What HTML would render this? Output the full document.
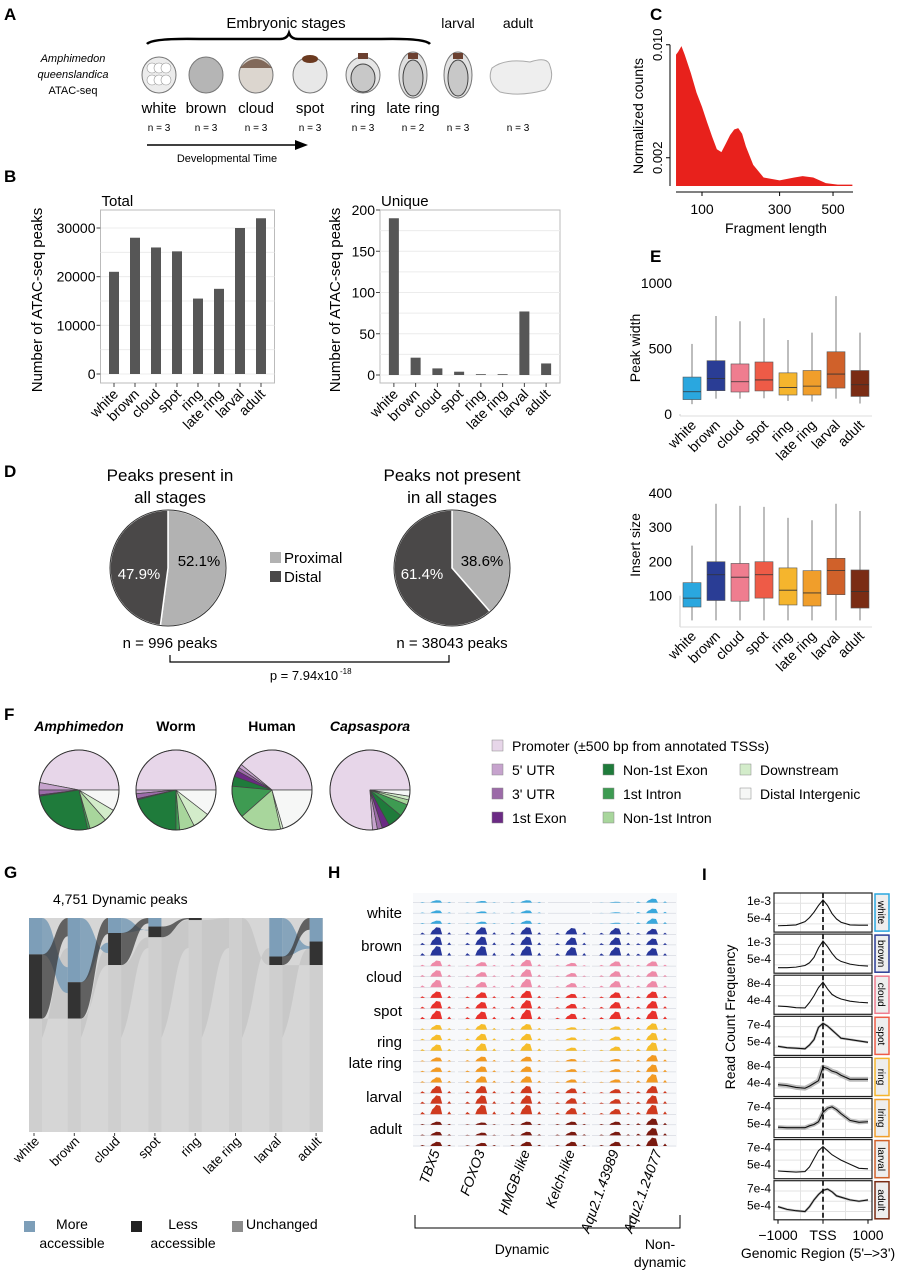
<!DOCTYPE html>
<html><head><meta charset="utf-8"><style>
body{margin:0;background:#fff;width:912px;height:1280px;overflow:hidden}
svg{display:block;font-family:"Liberation Sans",Arial,sans-serif}
</style></head><body>
<svg id="fig" width="912" height="1280" viewBox="0 0 912 1280" xmlns="http://www.w3.org/2000/svg">
<g font-weight="bold" font-size="17">
<text x="4" y="20">A</text><text x="650" y="20">C</text><text x="4" y="182">B</text>
<text x="4" y="477">D</text><text x="650" y="262">E</text><text x="4" y="720">F</text>
<text x="4" y="878">G</text><text x="328" y="878">H</text><text x="702" y="880">I</text>
</g>
<g id="panelA">
<text x="286" y="28" font-size="15" text-anchor="middle">Embryonic stages</text>
<path d="M147,44 Q152,38 200,39 L280,39 Q287,39 289,33 Q291,39 298,39 L380,39 Q425,38 430,44" fill="none" stroke="#000" stroke-width="2.5"/>
<text x="458" y="28" font-size="14" text-anchor="middle">larval</text>
<text x="518" y="28" font-size="14" text-anchor="middle">adult</text>
<text x="73" y="62" font-size="11" font-style="italic" text-anchor="middle">Amphimedon</text>
<text x="73" y="78" font-size="11" font-style="italic" text-anchor="middle">queenslandica</text>
<text x="73" y="94" font-size="11" text-anchor="middle">ATAC-seq</text>
<line x1="147" y1="145" x2="298" y2="145" stroke="#000" stroke-width="1.5"/>
<polygon points="308,145 295,140 295,150" fill="#000"/>
<text x="227" y="162" font-size="11" text-anchor="middle">Developmental Time</text>
</g>
<g id="panelB"></g>
<g id="panelC"></g>
<g id="panelD"></g>
<g id="panelE"></g>
<g id="panelF"></g>
<g id="panelG"></g>
<g id="panelH"></g>
<g id="panelI"></g>
</svg>
<script>
// ---------- data ----------
const stages = ["white","brown","cloud","spot","ring","late ring","larval","adult"];
const stageN = [3,3,3,3,3,2,3,3];
const stageColors = ["#2aa7df","#2a3d95","#ef7d8f","#ee5b47","#f5b52d","#f09e2b","#d0612a","#7a2c14"];
const trackColors = ["#3aa8dc","#27369a","#ee8aa8","#e8312c","#f6bd2a","#f29a23","#cf3a1f","#7a1a10"];
const totalPeaks = [21000,28000,26000,25200,15500,17500,30000,32000];
const totalTicks = [0,10000,20000,30000];
const uniquePeaks = [190,21,8,4,1,1,77,14];
const uniqueTicks = [0,50,100,150,200];
const fragLen = [57,60,65,70,80,90,100,110,120,130,140,150,160,170,180,190,200,220,250,300,350,380,420,470,520,585];
const fragCounts = [0.0093,0.0095,0.0099,0.0093,0.0080,0.0066,0.0056,0.0045,0.0035,0.0026,0.0024,0.0030,0.0036,0.0040,0.0041,0.0037,0.0028,0.0015,0.0006,0.0004,0.0006,0.0007,0.0006,0.0002,0.0001,0.0001];
const fragTicks = [100,300,500];
const pieAllValues = [52.1,47.9];
const pieNotAllValues = [38.6,61.4];
const widthLo=[75,117,117,120,100,95,117,80], widthQ1=[110,178,168,176,145,145,198,134], widthMed=[170,270,246,260,202,213,305,223], widthQ3=[282,407,382,397,314,332,475,332], widthHi=[535,748,708,731,565,621,900,621];
const widthTicks=[0,500,1000];
const insLo=[28,28,28,28,28,28,28,28], insQ1=[67,86,84,93,73,70,103,64], insMed=[93,161,154,161,116,108,173,112], insQ3=[138,199,194,199,181,173,209,175], insHi=[246,368,362,359,327,320,368,347];
const insTicks=[100,200,300,400];
const featNames=["Promoter (±500 bp from annotated TSSs)","5' UTR","3' UTR","1st Exon","Non-1st Exon","1st Intron","Non-1st Intron","Downstream","Distal Intergenic"];
const featColors=["#e7d6e9","#c6a3cd","#9c6ba8","#6b2a84","#1f7b3b","#3e9b52","#a8d69c","#d3ecca","#f6f7f6"];
const species=["Amphimedon","Worm","Human","Capsaspora"];
const annAmph=[47,3,2,0.5,26,1,7,5,8.5];
const annWorm=[50,1.5,2,0.5,21,1.5,6,7,10.5];
const annHuman=[39,1.5,1.5,2.5,4,13,17,1,20.5];
const annCaps=[76,2,2,3,6,5,2,1.5,2.5];
const moreAcc=[0.17,0.30,0.07,0.04,0.0,0.0,0.18,0.11];
const lessAcc=[0.30,0.17,0.15,0.05,0.01,0.0,0.04,0.11];
const genes=["TBX5","FOXO3","HMGB-like","Kelch-like","Aqu2.1.43989","Aqu2.1.24077"];
const geneSignal=[
 [0.3,0.2,0.3,0.0,0.1,0.5],[0.9,0.9,0.9,0.8,0.8,0.7],[0.7,0.5,0.8,0.4,0.6,0.6],[0.8,0.7,0.9,0.5,0.7,0.8],
 [0.6,0.7,0.7,0.3,0.4,0.8],[0.5,0.6,0.6,0.3,0.3,0.8],[0.9,0.9,0.9,0.6,0.5,0.9],[0.4,0.3,0.4,0.4,0.4,0.8]];
const profileX=[-1000,-800,-600,-400,-300,-200,-100,0,100,200,300,400,600,800,1000];
const profWhite=[0.05,0.06,0.08,0.2,0.35,0.55,0.8,1.0,0.8,0.5,0.3,0.18,0.08,0.07,0.07];
const profBrown=[0.02,0.02,0.04,0.1,0.2,0.4,0.75,1.0,0.8,0.55,0.35,0.25,0.15,0.1,0.08];
const profCloud=[0.12,0.1,0.06,0.05,0.25,0.5,0.8,1.0,0.75,0.55,0.45,0.38,0.3,0.26,0.24];
const profSpot=[0.15,0.1,0.08,0.06,0.2,0.4,0.85,1.0,0.9,0.75,0.6,0.45,0.4,0.35,0.3];
const profRing=[0.25,0.22,0.15,0.12,0.2,0.3,0.4,0.9,0.85,0.75,0.7,0.6,0.45,0.45,0.45];
const profLring=[0.2,0.18,0.18,0.18,0.25,0.3,0.4,0.75,0.9,0.95,0.85,0.7,0.45,0.38,0.4];
const profLarval=[0.1,0.08,0.06,0.08,0.25,0.55,0.85,1.0,0.85,0.7,0.6,0.5,0.35,0.2,0.18];
const profAdult=[0.3,0.2,0.15,0.12,0.3,0.55,0.75,0.9,0.95,0.85,0.7,0.65,0.55,0.5,0.55];
const profiles=[profWhite,profBrown,profCloud,profSpot,profRing,profLring,profLarval,profAdult];
const profBand=[0,0,0,0.04,0.08,0.07,0,0.04];
const profTickTop=["1e-3","1e-3","8e-4","7e-4","8e-4","7e-4","7e-4","7e-4"];
const profTickBot=["5e-4","5e-4","4e-4","5e-4","4e-4","5e-4","5e-4","5e-4"];
const stripLabels=["white","brown","cloud","spot","ring","lring","larval","adult"];

const NS="http://www.w3.org/2000/svg";
function mk(parent,tag,attrs){const e=document.createElementNS(NS,tag);for(const k in attrs)e.setAttribute(k,attrs[k]);parent.appendChild(e);return e;}
function txt(parent,x,y,s,size,extra){const t=mk(parent,"text",Object.assign({x:x,y:y,"font-size":size},extra||{}));t.textContent=s;return t;}

// ---------- Panel A embryos ----------
(function(){
 const g=document.getElementById("panelA");
 const cx=[159,206,256,310,363,413,458];
 const fills=["#ececec","#b5b5b5","#dcd6cf","#e8e8e8","#e6e6e6","#e0e0e0","#e2e2e2"];
 for(let i=0;i<7;i++){
  const c=mk(g,"ellipse",{cx:cx[i],cy:75,rx:i>=5?14:17,ry:i>=5?23:18,fill:fills[i],stroke:"#777","stroke-width":1});
  
  
  if(i==2){mk(g,"path",{d:"M240,68 Q256,50 272,68",fill:"#5a3a28",opacity:0.7});}
  if(i==3){mk(g,"ellipse",{cx:310,cy:59,rx:8,ry:4,fill:"#6b3a20"});}
  if(i>=4){mk(g,"ellipse",{cx:cx[i],cy:78,rx:i>=5?10:12,ry:i>=5?18:14,fill:"#c8c8c8",stroke:"#444"});mk(g,"rect",{x:cx[i]-5,y:53,width:10,height:6,fill:"#6b4030"});}
  if(i==0){for(let k=0;k<6;k++)mk(g,"circle",{cx:cx[i]-7+(k%3)*7,cy:68+Math.floor(k/3)*12,r:5,fill:"#fff",stroke:"#999","stroke-width":0.6});}
  if(i<6){const t=txt(g,cx[i],113,stages[i],15,{"text-anchor":"middle"});}
 }
 const ad=mk(g,"path",{d:"M492,68 Q505,58 530,62 Q548,56 550,66 Q555,80 545,90 Q520,97 500,92 Q486,82 492,68Z",fill:"#eee",stroke:"#aaa"});
 
 const nx=[159,206,256,310,363,413,458,518];
 for(let i=0;i<8;i++){const t=txt(g,nx[i],131,"n = "+stageN[i],10,{"text-anchor":"middle"});}
})();

// ---------- Panel B ----------
function barChart(g,x0,x1,yTop,yBot,y,vals,ticks,title,name,gridTicks){
 const band=(x1-x0)/vals.length;
 const xc=i=>x0+band*(i+0.5);
 mk(g,"rect",{x:x0-3,y:yTop,width:x1-x0+6,height:yBot-yTop,fill:"#fff",stroke:"#bbb"});
 gridTicks.forEach(t=>mk(g,"line",{x1:x0-3,x2:x1+3,y1:y(t),y2:y(t),stroke:"#ececec"}));
 ticks.forEach(t=>{mk(g,"line",{x1:x0-7,x2:x0-3,y1:y(t),y2:y(t),stroke:"#444"});const l=txt(g,x0-8,y(t)+5,String(t),14,{"text-anchor":"end"});});
 vals.forEach((v,i)=>{
  const b=mk(g,"rect",{x:xc(i)-5,y:y(v),width:10,height:y(0)-y(v),fill:"#565656"});
  
  
  mk(g,"line",{x1:xc(i),x2:xc(i),y1:yBot,y2:yBot+4,stroke:"#444"});
  const l=txt(g,xc(i)+5,yBot+12,stages[i],14,{"text-anchor":"end",transform:`rotate(-45 ${xc(i)+5} ${yBot+12})`});
  
 });
 const t=txt(g,x0-2,yTop-4,title,15);
}
(function(){
 const g=document.getElementById("panelB");
 barChart(g,103.5,271.5,210,383,v=>374-v*146/30000,totalPeaks,totalTicks,"Total","total",[0,5000,10000,15000,20000,25000,30000]);
 barChart(g,383,557,210,383,v=>375-v*165/200,uniquePeaks,uniqueTicks,"Unique","unique",[0,25,50,75,100,125,150,175]);
 let t=txt(g,0,0,"Number of ATAC-seq peaks",15,{"text-anchor":"middle",transform:"translate(42 300) rotate(-90)"});
 
 t=txt(g,0,0,"Number of ATAC-seq peaks",15,{"text-anchor":"middle",transform:"translate(340 300) rotate(-90)"});
 
})();

// ---------- Panel C ----------
(function(){
 const g=document.getElementById("panelC");
 const x=v=>702+(Math.sqrt(v)-10)*10.6, y=v=>186-v*14125;
 let d=`M${x(fragLen[0])},${y(0)}`;
 fragLen.forEach((f,i)=>d+=` L${x(f)},${y(fragCounts[i])}`);
 d+=` L${x(fragLen[fragLen.length-1])},${y(0)}Z`;
 const a=mk(g,"path",{d:d,fill:"#e8211c"});
 mk(g,"line",{x1:670,x2:670,y1:y(0.010),y2:y(0),stroke:"#000"});
 [0.010,0.002].forEach(v=>{mk(g,"line",{x1:666,x2:670,y1:y(v),y2:y(v),stroke:"#000"});const t=txt(g,0,0,v.toFixed(3),13,{"text-anchor":"middle",transform:`translate(662 ${y(v)}) rotate(-90)`});});
 mk(g,"line",{x1:676,x2:853,y1:192,y2:192,stroke:"#000"});
 fragTicks.forEach(v=>{mk(g,"line",{x1:x(v),x2:x(v),y1:192,y2:196,stroke:"#000"});const t=txt(g,x(v),214,String(v),14,{"text-anchor":"middle"});});
 let t=txt(g,776,233,"Fragment length",14,{"text-anchor":"middle"});
 t=txt(g,0,0,"Normalized counts",14,{"text-anchor":"middle",transform:"translate(643 116) rotate(-90)"});
})();

// ---------- Pie helper ----------
function pie(g,cx,cy,r,vals,colors,startDeg,dir,name,stroke){
 const tot=vals.reduce((a,b)=>a+b,0);let a=startDeg*Math.PI/180;
 vals.forEach((v,i)=>{
  const da=dir*v/tot*2*Math.PI;const a2=a+da;
  const x1=cx+r*Math.cos(a),y1=cy+r*Math.sin(a),x2=cx+r*Math.cos(a2),y2=cy+r*Math.sin(a2);
  const large=Math.abs(da)>Math.PI?1:0;
  const p=mk(g,"path",{d:`M${cx},${cy} L${x1},${y1} A${r},${r} 0 ${large} ${dir>0?1:0} ${x2},${y2}Z`,fill:colors[i],stroke:stroke||"#fff","stroke-width":stroke?0.7:1.5});
  
  
  a=a2;
 });
 mk(g,"circle",{cx:cx,cy:cy,r:r,fill:"none",stroke:"#333","stroke-width":1});
}

// ---------- Panel D ----------
(function(){
 const g=document.getElementById("panelD");
 const cols=["#b2b2b2","#4a4848"];
 txt(g,170,481,"Peaks present in",17,{"text-anchor":"middle"});
 txt(g,170,503,"all stages",17,{"text-anchor":"middle"});
 txt(g,452,481,"Peaks not present",17,{"text-anchor":"middle"});
 txt(g,452,503,"in all stages",17,{"text-anchor":"middle"});
 pie(g,168,568,58,pieAllValues,cols,-90,1,"pie-all-stages");
 pie(g,452,568,58,pieNotAllValues,cols,-90,1,"pie-not-all-stages");
 txt(g,199,566,pieAllValues[0]+"%",15,{"text-anchor":"middle"});
 txt(g,139,579,pieAllValues[1]+"%",15,{"text-anchor":"middle",fill:"#fff"});
 txt(g,482,566,pieNotAllValues[0]+"%",15,{"text-anchor":"middle"});
 txt(g,422,579,pieNotAllValues[1]+"%",15,{"text-anchor":"middle",fill:"#fff"});
 const l1=mk(g,"rect",{x:270,y:552,width:11,height:11,fill:cols[0]});
 const l2=mk(g,"rect",{x:270,y:571,width:11,height:11,fill:cols[1]});
 txt(g,284,563,"Proximal",15);txt(g,284,582,"Distal",15);
 txt(g,170,648,"n = 996 peaks",15,{"text-anchor":"middle"});
 txt(g,452,648,"n = 38043 peaks",15,{"text-anchor":"middle"});
 mk(g,"path",{d:"M170,655 V662 H449 V655",fill:"none",stroke:"#000","stroke-width":1.2});
 const p=txt(g,304,680,"p = 7.94x10",13,{"text-anchor":"middle"});
 txt(g,340,674,"-18",8);
})();

// ---------- Panel E ----------
function boxplot(g,x0,x1,y,lo,q1,md,q3,hi,ticks,title,titleY,name,axisY){
 const band=(x1-x0)/8,xc=i=>x0+band*(i+0.5);
 mk(g,"line",{x1:x0,x2:x0,y1:y(ticks[0]),y2:axisY,stroke:"#ccc"});
 mk(g,"line",{x1:x0,x2:x1,y1:axisY,y2:axisY,stroke:"#ddd"});
 ticks.forEach(t=>{const l=txt(g,x0-8,y(t)+5,String(t),14,{"text-anchor":"end"});});
 for(let i=0;i<8;i++){
  mk(g,"line",{x1:xc(i),x2:xc(i),y1:y(hi[i]),y2:y(lo[i]),stroke:"#999","stroke-width":1.3});
  const b=mk(g,"rect",{x:xc(i)-9,y:y(q3[i]),width:18,height:y(q1[i])-y(q3[i]),fill:stageColors[i],stroke:"#555","stroke-width":0.6});
  
  
  mk(g,"line",{x1:xc(i)-9,x2:xc(i)+9,y1:y(md[i]),y2:y(md[i]),stroke:"#333","stroke-width":0.8});
  const ly=axisY+10;
  const l=txt(g,xc(i)+5,ly,stages[i],14,{"text-anchor":"end",transform:`rotate(-45 ${xc(i)+5} ${ly})`});
  
 }
 const t=txt(g,0,0,title,14,{"text-anchor":"middle",transform:`translate(${x0-40} ${titleY}) rotate(-90)`});
 
}
(function(){
 const g=document.getElementById("panelE");
 boxplot(g,680,872,v=>414-v*0.131,widthLo,widthQ1,widthMed,widthQ3,widthHi,widthTicks,"Peak width",348,"width",416);
 boxplot(g,680,872,v=>630-v*0.343,insLo,insQ1,insMed,insQ3,insHi,insTicks,"Insert size",545,"insert",627);
})();

// ---------- Panel F ----------
(function(){
 const g=document.getElementById("panelF");
 const data=[annAmph,annWorm,annHuman,annCaps];const cx=[79,176,272,370];
 species.forEach((s,i)=>{
  const t=txt(g,cx[i],731,s,14,{"text-anchor":"middle","font-weight":"bold","font-style":(i==0||i==3)?"italic":"normal"});
  
  pie(g,cx[i],790,40,data[i],featColors,0,-1,"annotation-pie-"+s.toLowerCase(),"#444");
 });
 const pos=[[492,751],[492,775],[492,799],[492,823],[603,775],[603,799],[603,823],[740,775],[740,799]];
 featNames.forEach((n,i)=>{
  const r=mk(g,"rect",{x:pos[i][0],y:pos[i][1]-11,width:11,height:11,fill:featColors[i],stroke:"#888","stroke-width":0.5});
  
  const t=txt(g,pos[i][0]+20,pos[i][1],n,14);
  
 });
})();

// ---------- Panel G ----------
(function(){
 const g=document.getElementById("panelG");
 const top=918,bot=1132,H=bot-top;const x0=29,x1=323;const cx=i=>34+i*40.3;const w=13;
 const t=txt(g,53,904,"4,751 Dynamic peaks",14);
 mk(g,"rect",{x:x0,y:top,width:x1-x0,height:H,fill:"#d6d6d6"});
 const gy=i=>top+(moreAcc[i]+lessAcc[i])*H;
 for(let i=0;i<7;i++){
  const a=Math.max(x0,cx(i)-w/2)+w,b=cx(i+1)-w/2,m=(a+b)/2;
  const f=mk(g,"path",{d:`M${a},${gy(i)} C${m},${gy(i)} ${m},${gy(i+1)} ${b},${gy(i+1)} L${b},${top+30} C${m},${top+30} ${m},${top+90} ${a},${top+120}Z`,fill:"#c2c2c2",opacity:0.7});
  
  const mA=moreAcc[i]*H,lA=lessAcc[i]*H,mB=moreAcc[i+1]*H,lB=lessAcc[i+1]*H;
  if(mA>2&&mB>2)mk(g,"path",{d:`M${a},${top} C${m},${top} ${m},${top+mB*0.2+lB} ${b},${top+mB*0.2+lB} L${b},${top+mB+lB*0.3} C${m},${top+mB+lB*0.3} ${m},${top+mA} ${a},${top+mA}Z`,fill:"#7d9eb8",opacity:0.9});
  if(lA>2&&lB>2)mk(g,"path",{d:`M${a},${top+mA} C${m},${top+mA} ${m},${top} ${b},${top} L${b},${top+lB*0.5} C${m},${top+lB*0.5} ${m},${top+mA+lA} ${a},${top+mA+lA}Z`,fill:"#3a3a3a",opacity:0.75});
 }
 stages.forEach((s,i)=>{
  const hm=moreAcc[i]*H, hl=lessAcc[i]*H;const xl=Math.max(x0,cx(i)-w/2);
  const r1=mk(g,"rect",{x:xl,y:top,width:w,height:hm,fill:"#7d9eb8"});
  
  const r2=mk(g,"rect",{x:xl,y:top+hm,width:w,height:hl,fill:"#333"});
  
  const r3=mk(g,"rect",{x:xl,y:top+hm+hl,width:w,height:H-hm-hl,fill:"#cfcfcf"});
  
  mk(g,"line",{x1:cx(i),x2:cx(i),y1:bot+1,y2:bot+4,stroke:"#444"});
  const l=txt(g,cx(i)+6,1142,s,13,{"text-anchor":"end",transform:`rotate(-45 ${cx(i)+6} 1142)`});
  
 });
 const lg=[["#7d9eb8",24,"More","accessible",72],["#222",131,"Less","accessible",183],["#8c8c8c",232,"Unchanged","",0]];
 lg.forEach(L=>{const r=mk(g,"rect",{x:L[1],y:1221,width:11,height:11,fill:L[0]});
  if(L[3]){txt(g,L[4],1229,L[2],14,{"text-anchor":"middle"});txt(g,L[4],1248,L[3],14,{"text-anchor":"middle"});}else txt(g,L[1]+14,1229,L[2],14);});
})();

// ---------- Panel H ----------
(function(){
 const g=document.getElementById("panelH");
 const top=893,rowH=(1147-893)/24;
 const colX=[413,458,503,548,592,636], colW=[42,42,42,42,42,40];
 mk(g,"rect",{x:413,y:top,width:264,height:254,fill:"#f8f9fb"});
 const labY=[918,951,982,1016,1047,1068,1102,1134];
 stages.forEach((s,i)=>{const t=txt(g,402,labY[i],s,15,{"text-anchor":"end"});});
 for(let s=0;s<8;s++)for(let rep=0;rep<3;rep++){
  const yb=top+(s*3+rep+1)*rowH-1;
  for(let c=0;c<6;c++){
   mk(g,"line",{x1:colX[c],x2:colX[c]+colW[c],y1:yb,y2:yb,stroke:"#c8ccd6","stroke-width":0.5});
   const h=geneSignal[s][c]*rowH*(0.75+0.12*rep);const cx=colX[c]+colW[c]*(c==5?0.45:0.6);
   if(h<0.5)continue;
   const p=mk(g,"path",{d:`M${cx-18},${yb} L${cx-16},${yb-h*0.25} L${cx-13},${yb} L${cx-8},${yb} L${cx-6},${yb-h*0.5} L${cx-4},${yb-h*0.7} L${cx-2},${yb-h} L${cx+2},${yb-h*0.9} L${cx+4},${yb} L${cx+9},${yb} L${cx+11},${yb-h*0.3} L${cx+13},${yb}Z`,fill:trackColors[s]});
   
  }
 }
 genes.forEach((n,c)=>{const cx=colX[c]+colW[c]*0.5+6;const t=txt(g,cx,1152,n,14,{"text-anchor":"end","font-style":"italic",transform:`rotate(-70 ${cx} 1152)`});});
 mk(g,"path",{d:"M415,1215 V1228 H630 V1215",fill:"none",stroke:"#000"});
 mk(g,"path",{d:"M630,1215 V1228 H680 V1215",fill:"none",stroke:"#000"});
 txt(g,522,1254,"Dynamic",14,{"text-anchor":"middle"});
 txt(g,660,1249,"Non-",14,{"text-anchor":"middle"});txt(g,660,1267,"dynamic",14,{"text-anchor":"middle"});
})();

// ---------- Panel I ----------
(function(){
 const g=document.getElementById("panelI");
 const x0=774,x1=872,top=893,ph=41.1;
 const x=v=>x0+4+(v+1000)/2000*(x1-x0-8);
 for(let s=0;s<8;s++){
  const py=top+s*ph;
  mk(g,"rect",{x:x0,y:py,width:x1-x0,height:ph-2,fill:"#fff"});
  [-500,0,500].forEach(v=>mk(g,"line",{x1:x(v),x2:x(v),y1:py,y2:py+ph-2,stroke:"#e3e3e3"}));
  [0.25,0.5,0.75].forEach(f=>mk(g,"line",{x1:x0,x2:x1,y1:py+f*ph,y2:py+f*ph,stroke:"#e3e3e3"}));
  const yy=v=>py+ph-7-v*(ph-14);
  let d="";profileX.forEach((px,i)=>{d+=(i?" L":"M")+x(px)+","+yy(profiles[s][i]);});
  if(profBand[s]>0)mk(g,"path",{d:d,fill:"none",stroke:"#bbb","stroke-width":profBand[s]*60,"stroke-linejoin":"round"});
  const l=mk(g,"path",{d:d,fill:"none",stroke:"#111","stroke-width":1.1});
  
  mk(g,"line",{x1:x(0),x2:x(0),y1:py,y2:py+ph-2,stroke:"#000","stroke-width":1.6,"stroke-dasharray":"5,3"});
  mk(g,"rect",{x:x0,y:py,width:x1-x0,height:ph-2,fill:"none",stroke:"#222","stroke-width":1.2});
  txt(g,771,py+12,profTickTop[s],12,{"text-anchor":"end"});
  txt(g,771,py+29,profTickBot[s],12,{"text-anchor":"end"});
  const sr=mk(g,"rect",{x:875,y:py+1,width:14,height:ph-4,fill:"#eee",stroke:stageColors[s],"stroke-width":1.5});
  
  txt(g,0,0,stripLabels[s],10,{"text-anchor":"middle",transform:`translate(878 ${py+ph/2-1}) rotate(90)`});
 }
 [[-1000,"−1000"],[0,"TSS"],[1000,"1000"]].forEach(t=>{mk(g,"line",{x1:x(t[0]),x2:x(t[0]),y1:top+8*ph-2,y2:top+8*ph+2,stroke:"#000"});txt(g,x(t[0]),1240,t[1],14,{"text-anchor":"middle"});});
 let t=txt(g,818,1258,"Genomic Region (5'–>3')",14,{"text-anchor":"middle"});
 t=txt(g,0,0,"Read Count Frequency",14,{"text-anchor":"middle",transform:"translate(735 1017) rotate(-90)"});
})();
</script>
</body></html>
